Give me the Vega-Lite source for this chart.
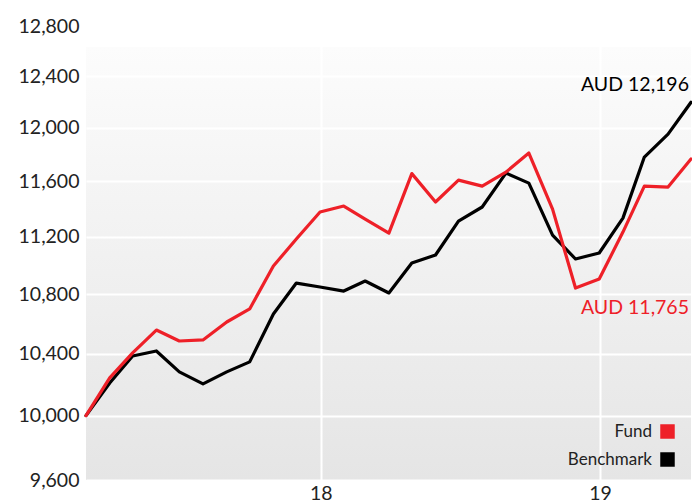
{
  "$schema": "https://vega.github.io/schema/vega-lite/v6.json",
  "width": 605,
  "height": 454,
  "autosize": "none",
  "padding": {"left": 86, "top": 26, "right": 1, "bottom": 20},
  "background": "white",
  "config": {
    "font": "Lato",
    "view": {
      "stroke": null,
      "fill": {
        "gradient": "linear",
        "x1": 0, "y1": 0, "x2": 0, "y2": 1,
        "stops": [
          {"offset": 0, "color": "#ffffff"},
          {"offset": 0.046, "color": "#ffffff"},
          {"offset": 0.047, "color": "#fcfcfc"},
          {"offset": 1, "color": "#e5e5e5"}
        ]
      }
    },
    "axis": {
      "domain": false,
      "ticks": false,
      "grid": true,
      "gridColor": "#ffffff",
      "gridWidth": 2,
      "gridOpacity": 1,
      "labelFont": "Lato",
      "labelFontSize": 19.5,
      "labelColor": "#222222",
      "title": null
    },
    "legend": {"padding": 0}
  },
  "datasets": {
    "perf": [
      {"date": "2017-02-28", "Fund": 10000, "Benchmark": 10000},
      {"date": "2017-03-31", "Fund": 10242, "Benchmark": 10209},
      {"date": "2017-04-30", "Fund": 10405, "Benchmark": 10385},
      {"date": "2017-05-31", "Fund": 10557, "Benchmark": 10418},
      {"date": "2017-06-30", "Fund": 10484, "Benchmark": 10281},
      {"date": "2017-07-31", "Fund": 10491, "Benchmark": 10203},
      {"date": "2017-08-31", "Fund": 10611, "Benchmark": 10281},
      {"date": "2017-09-30", "Fund": 10699, "Benchmark": 10346},
      {"date": "2017-10-31", "Fund": 10994, "Benchmark": 10665},
      {"date": "2017-11-30", "Fund": 11184, "Benchmark": 10876},
      {"date": "2017-12-31", "Fund": 11377, "Benchmark": 10849},
      {"date": "2018-01-31", "Fund": 11420, "Benchmark": 10821},
      {"date": "2018-02-28", "Fund": 11326, "Benchmark": 10890},
      {"date": "2018-03-31", "Fund": 11226, "Benchmark": 10808},
      {"date": "2018-04-30", "Fund": 11657, "Benchmark": 11015},
      {"date": "2018-05-31", "Fund": 11449, "Benchmark": 11071},
      {"date": "2018-06-30", "Fund": 11609, "Benchmark": 11312},
      {"date": "2018-07-31", "Fund": 11565, "Benchmark": 11413},
      {"date": "2018-08-31", "Fund": 11668, "Benchmark": 11661},
      {"date": "2018-09-30", "Fund": 11810, "Benchmark": 11587},
      {"date": "2018-10-31", "Fund": 11398, "Benchmark": 11212},
      {"date": "2018-11-30", "Fund": 10842, "Benchmark": 11043},
      {"date": "2018-12-31", "Fund": 10904, "Benchmark": 11085},
      {"date": "2019-01-31", "Fund": 11233, "Benchmark": 11333},
      {"date": "2019-02-28", "Fund": 11565, "Benchmark": 11780},
      {"date": "2019-03-31", "Fund": 11558, "Benchmark": 11952},
      {"date": "2019-04-30", "Fund": 11765, "Benchmark": 12196}
    ],
    "notes": [
      {"date": "2019-04-30", "series": "Benchmark", "value": 12196, "label": "AUD 12,196"},
      {"date": "2019-04-30", "series": "Fund", "value": 11765, "label": "AUD 11,765"}
    ]
  },
  "encoding": {
    "x": {
      "field": "date",
      "type": "temporal",
      "scale": {"type": "utc", "nice": false},
      "axis": {
        "values": [
          {"year": 2018, "month": 1, "date": 1, "utc": true},
          {"year": 2019, "month": 1, "date": 1, "utc": true}
        ],
        "labelExpr": "utcFormat(datum.value, '%y')",
        "labelPadding": 4
      }
    },
    "y": {
      "field": "value",
      "type": "quantitative",
      "scale": {"type": "log", "domain": [9600, 12800], "nice": false},
      "axis": {
        "values": [9600, 10000, 10400, 10800, 11200, 11600, 12000, 12400, 12800],
        "format": ",d",
        "labelPadding": 7
      }
    }
  },
  "layer": [
    {
      "data": {"name": "perf"},
      "transform": [
        {"fold": ["Benchmark", "Fund"], "as": ["series", "value"]},
        {"filter": "datum.series === 'Benchmark'"}
      ],
      "mark": {"type": "line", "strokeWidth": 3.2, "strokeJoin": "round", "strokeCap": "round"},
      "encoding": {
        "color": {
          "field": "series",
          "type": "nominal",
          "scale": {"domain": ["Fund", "Benchmark"], "range": ["#ee2028", "#000000"]},
          "legend": {
            "title": null,
            "orient": "none",
            "direction": "vertical",
            "legendX": 573,
            "legendY": 397,
            "symbolType": "square",
            "symbolSize": 210,
            "symbolStrokeWidth": 0,
            "labelAlign": "right",
            "labelOffset": -24,
            "labelFontSize": 17,
            "labelColor": "#222222",
            "rowPadding": 10,
            "encode": {
              "symbols": {
                "update": {
                  "fill": {"scale": "color", "field": "value"},
                  "stroke": {"value": "transparent"}
                }
              }
            }
          }
        }
      }
    },
    {
      "data": {"name": "perf"},
      "transform": [
        {"fold": ["Benchmark", "Fund"], "as": ["series", "value"]},
        {"filter": "datum.series === 'Fund'"}
      ],
      "mark": {"type": "line", "strokeWidth": 3.2, "strokeJoin": "round", "strokeCap": "round"},
      "encoding": {
        "color": {"field": "series", "type": "nominal"}
      }
    },
    {
      "data": {"name": "notes"},
      "transform": [{"filter": "datum.series === 'Benchmark'"}],
      "mark": {"type": "text", "align": "right", "baseline": "middle", "dx": -2, "dy": -17, "fontSize": 19.5, "color": "#000000"},
      "encoding": {"text": {"field": "label"}}
    },
    {
      "data": {"name": "notes"},
      "transform": [{"filter": "datum.series === 'Fund'"}],
      "mark": {"type": "text", "align": "right", "baseline": "middle", "dx": -2, "dy": 149, "fontSize": 19.5, "color": "#ee2028"},
      "encoding": {"text": {"field": "label"}}
    }
  ]
}
